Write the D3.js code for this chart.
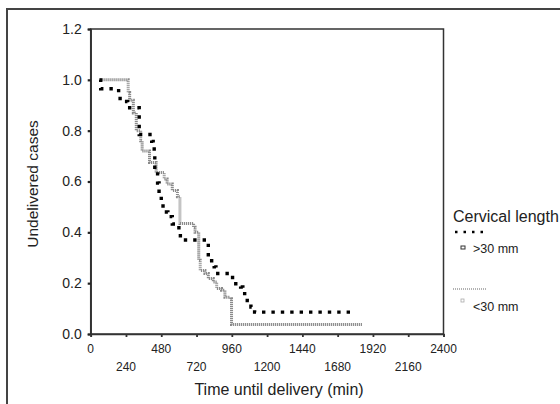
<!DOCTYPE html>
<html><head><meta charset="utf-8">
<script src="https://cdn.jsdelivr.net/npm/d3@7"></script>
<style>body{margin:0;background:#fff;}svg{display:block;font-family:"Liberation Sans",Arial,sans-serif;}</style>
</head><body>
<svg id="c" width="560" height="404"></svg>
<script>
// <30 mm group (fine grey step line)
const shortTimes = [60, 255, 265, 290, 310, 340, 350, 400, 445, 500, 520, 555, 590, 607, 700, 710, 735, 745, 777, 800, 834, 857, 890, 913, 947, 958, 1850];
const shortVals  = [1.0, 0.95, 0.92, 0.87, 0.80, 0.76, 0.72, 0.675, 0.635, 0.61, 0.59, 0.565, 0.54, 0.435, 0.42, 0.40, 0.29, 0.25, 0.238, 0.218, 0.205, 0.179, 0.172, 0.145, 0.139, 0.037, 0.037];
// >30 mm group (black square dots)
const longTimes = [60, 68, 190, 200, 250, 330, 415, 425, 432, 436, 455, 465, 480, 492, 525, 555, 600, 610, 800, 840, 852, 965, 1020, 1035, 1065, 1090, 1115, 1770];
const longVals  = [1.0, 0.965, 0.95, 0.915, 0.89, 0.785, 0.758, 0.738, 0.705, 0.64, 0.594, 0.554, 0.515, 0.48, 0.462, 0.433, 0.396, 0.37, 0.288, 0.264, 0.238, 0.198, 0.185, 0.159, 0.132, 0.106, 0.086, 0.086];
const xTicks = [0, 240, 480, 720, 960, 1200, 1440, 1680, 1920, 2160, 2400];
const yTicks = [0.0, 0.2, 0.4, 0.6, 0.8, 1.0, 1.2];
const legendTitle = "Cervical length";
const legendLabels = [">30 mm", "<30 mm"];

const svg = d3.select("#c");
const x = d3.scaleLinear().domain([0, 2400]).range([90.7, 443.5]);
const y = d3.scaleLinear().domain([0, 1.2]).range([334, 29]);

// outer frame
svg.append("rect").attr("x", 7).attr("y", 9).attr("width", 600).attr("height", 450)
  .attr("fill", "none").attr("stroke", "#444").attr("stroke-width", 2);

// plot box
svg.append("rect").attr("x", x(0)).attr("y", y(1.2)).attr("width", x(2400) - x(0)).attr("height", y(0) - y(1.2))
  .attr("fill", "none").attr("stroke", "#333").attr("stroke-width", 1.5);

// y axis
const yAx = svg.append("g").attr("transform", `translate(${x(0)},0)`)
  .call(d3.axisLeft(y).tickValues(yTicks).tickFormat(d3.format(".1f")).tickSize(3).tickPadding(6));
yAx.select(".domain").attr("stroke", "#333").attr("stroke-width", 1.5);
yAx.selectAll(".tick line").attr("stroke", "#222").attr("stroke-width", 2.2);
yAx.selectAll("text").attr("font-size", 14).attr("fill", "#222").attr("font-family", "Liberation Sans, Arial");

// x axis
const xAx = svg.append("g").attr("transform", `translate(0,${y(0)})`)
  .call(d3.axisBottom(x).tickValues(xTicks).tickSize(3).tickFormat(""));
xAx.select(".domain").attr("stroke", "#333").attr("stroke-width", 1.5);
xAx.selectAll(".tick line").attr("stroke", "#333").attr("stroke-width", 1.8);
svg.append("g").selectAll("text").data(xTicks).join("text")
  .attr("x", d => x(d)).attr("y", (d, i) => i % 2 === 0 ? 352.5 : 370.5)
  .attr("text-anchor", "middle").attr("font-size", 12).attr("fill", "#222").text(d => d);

// axis titles
svg.append("text").attr("x", 279).attr("y", 395).attr("text-anchor", "middle")
  .attr("font-size", 16).attr("fill", "#222").text("Time until delivery (min)");
svg.append("text").attr("transform", `translate(38,184) rotate(-90)`)
  .attr("text-anchor", "middle").attr("font-size", 15.5).attr("fill", "#222").text("Undelivered cases");

const line = d3.line().x(d => x(d[0])).y(d => y(d[1])).curve(d3.curveStepAfter);
const shortData = d3.zip(shortTimes, shortVals);
const longData = d3.zip(longTimes, longVals);

svg.append("path").datum(shortData).attr("d", line).attr("fill", "none")
  .attr("stroke", "#8a8a8a").attr("stroke-width", 3).attr("stroke-dasharray", "1.2,0.8");
svg.append("path").datum(longData).attr("d", line).attr("fill", "none")
  .attr("stroke", "#000").attr("stroke-width", 3.4).attr("stroke-dasharray", "3.4,6");

// legend
svg.append("text").attr("x", 453).attr("y", 222).attr("font-size", 16).attr("fill", "#222").text(legendTitle);
svg.append("line").attr("x1", 455).attr("x2", 484).attr("y1", 232).attr("y2", 232)
  .attr("stroke", "#000").attr("stroke-width", 2.5).attr("stroke-dasharray", "2.5,6");
svg.append("rect").attr("x", 461).attr("y", 246).attr("width", 4).attr("height", 3)
  .attr("fill", "none").attr("stroke", "#333").attr("stroke-width", 1);
svg.append("text").attr("x", 473).attr("y", 253).attr("font-size", 12.5).attr("fill", "#222").text(legendLabels[0]);
svg.append("line").attr("x1", 453).attr("x2", 486).attr("y1", 289).attr("y2", 289)
  .attr("stroke", "#999").attr("stroke-width", 1.5).attr("stroke-dasharray", "1,1");
svg.append("rect").attr("x", 461).attr("y", 299).attr("width", 3).attr("height", 3)
  .attr("fill", "none").attr("stroke", "#aaa").attr("stroke-width", 0.8);
svg.append("text").attr("x", 473).attr("y", 311).attr("font-size", 12.5).attr("fill", "#222").text(legendLabels[1]);
</script>
</body></html>
